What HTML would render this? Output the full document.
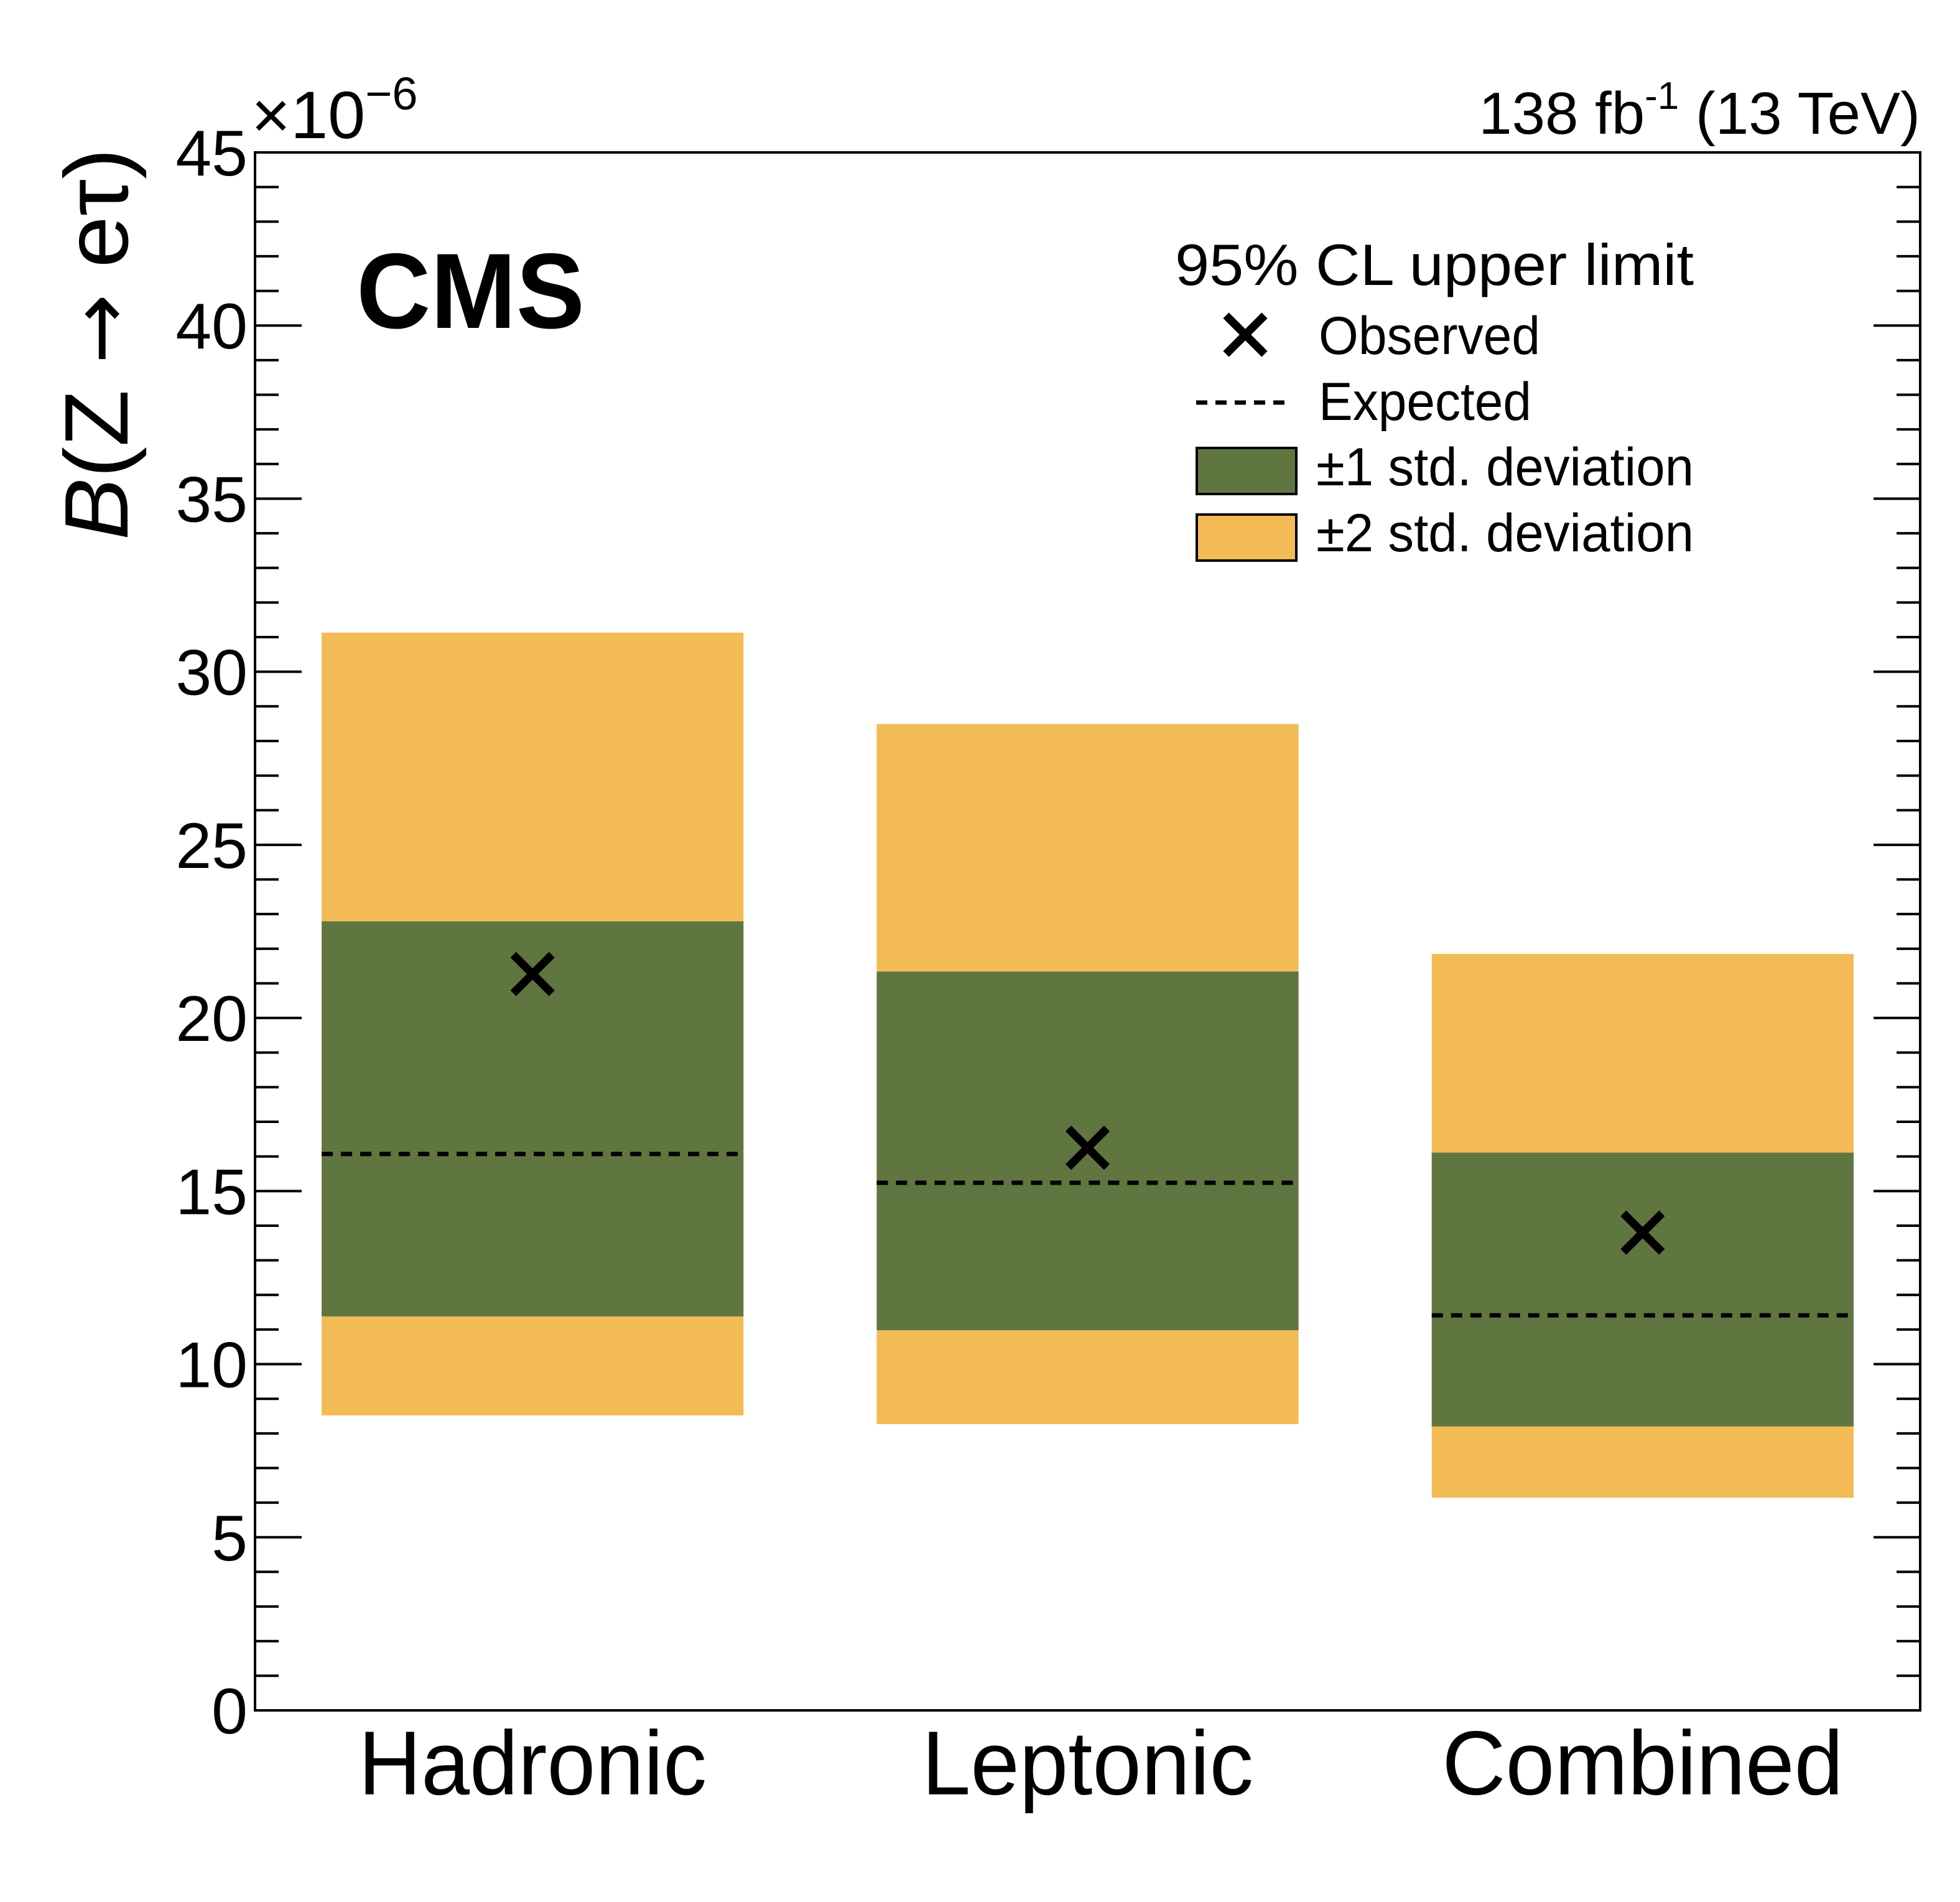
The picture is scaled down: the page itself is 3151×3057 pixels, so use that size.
<!DOCTYPE html>
<html><head><meta charset="utf-8">
<style>
html,body{margin:0;padding:0;background:#fff;}
svg{display:block;font-family:"Liberation Sans",sans-serif;}
</style></head>
<body>
<svg id="chart" width="3151" height="3057" viewBox="0 0 3151 3057" xmlns="http://www.w3.org/2000/svg">
  <rect x="0" y="0" width="3151" height="3057" fill="#fff"/>
  <g id="bands"></g>
  <g id="axes"></g>
  <text x="573" y="527" font-size="172" font-weight="bold" textLength="367" lengthAdjust="spacingAndGlyphs">CMS</text>
  <text x="3087" y="215" font-size="96" text-anchor="end">138 fb<tspan font-size="62" dy="-40">-1</tspan><tspan dy="40"> (13 TeV)</tspan></text>
  <text x="404" y="222" font-size="108">×10<tspan font-size="74" dy="-46">−6</tspan></text>
  <text transform="translate(205,553) rotate(-90)" font-size="145" text-anchor="middle" textLength="630" lengthAdjust="spacingAndGlyphs"><tspan font-style="italic">B</tspan>(Z <tspan font-family="DejaVu Sans" font-size="130">→</tspan> eτ)</text>
  <g>
    <text x="1889" y="458" font-size="94" textLength="834" lengthAdjust="spacingAndGlyphs">95% CL upper limit</text>
    <g>
      <path d="M1971 507 L2033 569 M2033 507 L1971 569" stroke="#000" stroke-width="13"/>
      <text x="2120" y="569" font-size="86" textLength="356" lengthAdjust="spacingAndGlyphs">Observed</text>
    </g>
    <g>
      <line x1="1923" y1="647" x2="2076" y2="647" stroke="#000" stroke-width="7" stroke-dasharray="18,13"/>
      <text x="2120" y="675" font-size="86" textLength="342" lengthAdjust="spacingAndGlyphs">Expected</text>
    </g>
    <g>
      <rect x="1924" y="720" width="160" height="74" fill="#607641" stroke="#000" stroke-width="4"/>
      <text x="2116" y="780" font-size="86" textLength="607" lengthAdjust="spacingAndGlyphs">±1 std. deviation</text>
    </g>
    <g>
      <rect x="1924" y="827" width="160" height="74" fill="#F3BB55" stroke="#000" stroke-width="4"/>
      <text x="2116" y="886" font-size="86" textLength="607" lengthAdjust="spacingAndGlyphs">±2 std. deviation</text>
    </g>
  </g>
</svg>
<script>
const categories = ["Hadronic", "Leptonic", "Combined"];
const observed = [21.27, 16.25, 13.80];
const expected = [16.07, 15.24, 11.41];
const sigma1Low = [11.38, 10.98, 8.20];
const sigma1High = [22.79, 21.34, 16.11];
const sigma2Low = [8.52, 8.27, 6.14];
const sigma2High = [31.13, 28.49, 21.85];
const yTicks = [0, 5, 10, 15, 20, 25, 30, 35, 40, 45];
const labelWidths = [560, 533, 645];

const NS = "http://www.w3.org/2000/svg";
const L = 410, R = 3087, T = 245, B = 2749, YMAX = 45;
const yScale = v => B - (v / YMAX) * (B - T);
const bandW = (R - L) / categories.length;
const xBin = i => L + i * bandW;
function mk(tag, attrs, parent) {
  const e = document.createElementNS(NS, tag);
  for (const k in attrs) e.setAttribute(k, attrs[k]);
  parent.appendChild(e);
  return e;
}
const bands = document.getElementById("bands");
const axes = document.getElementById("axes");

categories.forEach((c, i) => {
  const x0 = xBin(i) + bandW * 0.12, w = bandW * 0.76, cx = xBin(i) + bandW / 2;
  const g = mk("g", {}, bands);
  
  
  const r2 = mk("rect", {x: x0, y: yScale(sigma2High[i]), width: w, height: yScale(sigma2Low[i]) - yScale(sigma2High[i]), fill: "#F3BB55"}, g);
  
  
  const r1 = mk("rect", {x: x0, y: yScale(sigma1High[i]), width: w, height: yScale(sigma1Low[i]) - yScale(sigma1High[i]), fill: "#607641"}, g);
  
  
  const ex = mk("line", {x1: x0, x2: x0 + w, y1: yScale(expected[i]), y2: yScale(expected[i]), stroke: "#000", "stroke-width": 7, "stroke-dasharray": "18,13"}, g);
  
  
  const oy = yScale(observed[i]), s = 31;
  const ob = mk("path", {d: `M${cx - s} ${oy - s} L${cx + s} ${oy + s} M${cx + s} ${oy - s} L${cx - s} ${oy + s}`, stroke: "#000", "stroke-width": 13}, g);
  
  
  const lab = mk("text", {x: cx, y: 2884, "font-size": 146, "text-anchor": "middle", textLength: labelWidths[i], lengthAdjust: "spacingAndGlyphs"}, axes);
  lab.textContent = c;
  
  
});

const fr = mk("rect", {x: L, y: T, width: R - L, height: B - T, fill: "none", stroke: "#000", "stroke-width": 4}, axes);



for (let v = 0; v <= YMAX; v += 1) {
  const major = v % 5 === 0;
  const len = major ? 75 : 38;
  const y = yScale(v);
  const t1 = mk("line", {x1: L, x2: L + len, y1: y, y2: y, stroke: "#000", "stroke-width": 4}, axes);
  
  
  const t2 = mk("line", {x1: R, x2: R - len, y1: y, y2: y, stroke: "#000", "stroke-width": 4}, axes);
  
  
}
yTicks.forEach(v => {
  const t = mk("text", {x: 398, y: yScale(v) + 37, "font-size": 104, "text-anchor": "end"}, axes);
  t.textContent = v;
  
  
});
</script>
</body></html>
